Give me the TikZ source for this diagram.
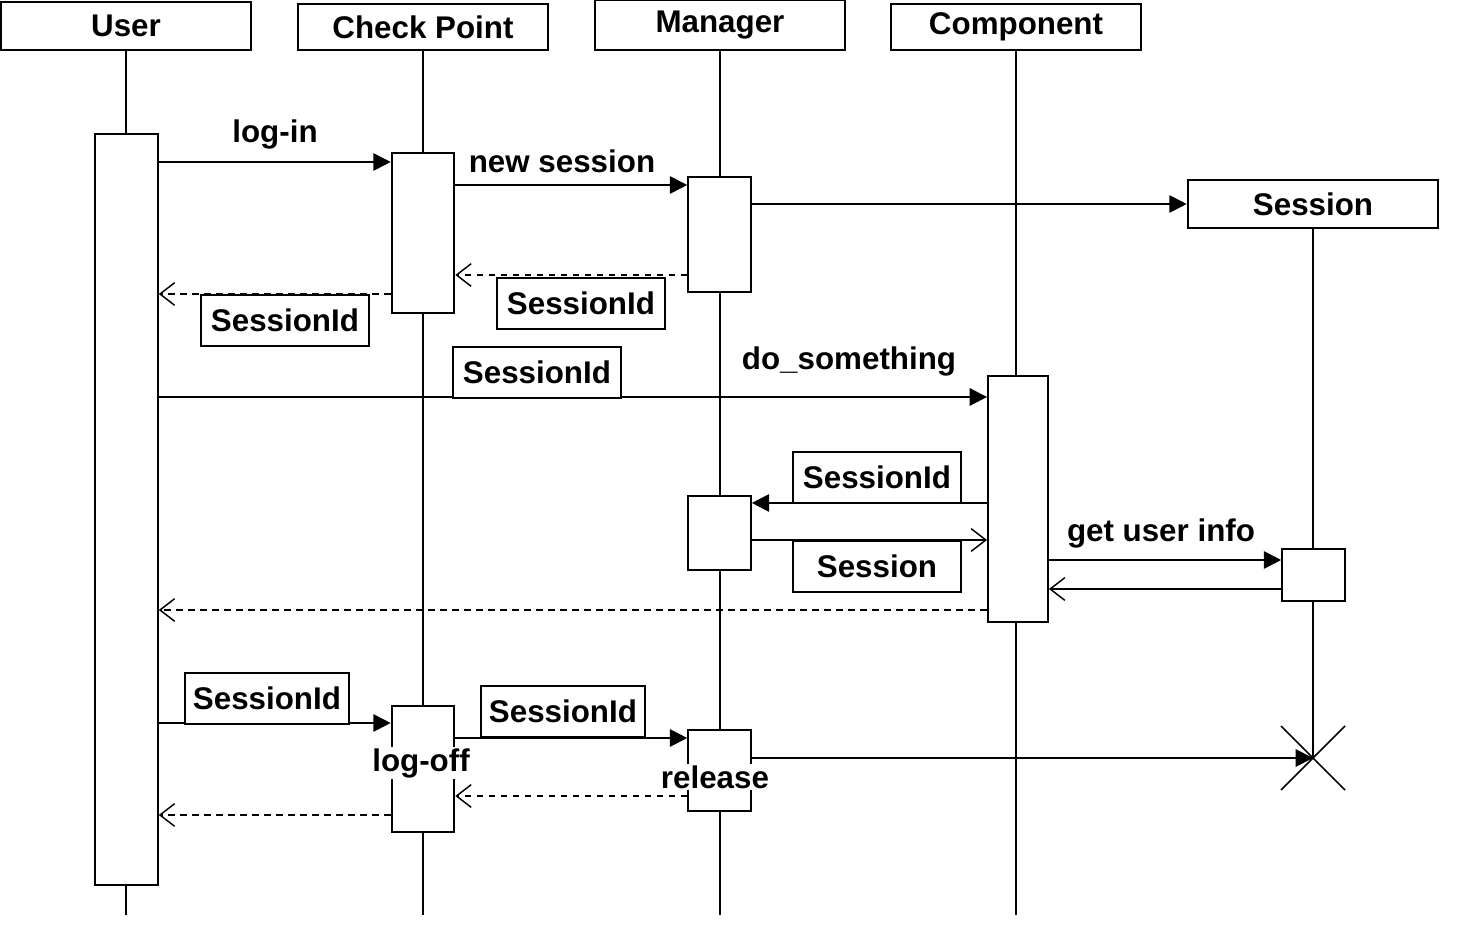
\documentclass[tikz,border=0pt]{standalone}
\usepackage{fontspec}
\setmainfont{Liberation Sans}
\usepackage{tikz}
\usetikzlibrary{arrows.meta}

\begin{document}
\begin{tikzpicture}[x=0.75pt,y=0.75pt,yscale=-1,xscale=1,
    line width=1.45pt,
    lbl/.style={font=\fontsize{23.5}{28}\selectfont\bfseries, inner sep=0.75pt},
    head/.style={lbl, draw, fill=white, minimum width=188pt, minimum height=34.5pt, anchor=south},
    act/.style={draw, fill=white, minimum width=47pt, anchor=north, inner sep=0pt},
    tag/.style={lbl, draw, fill=white, minimum width=126pt, minimum height=38pt, anchor=north west, inner sep=0pt},
    call/.style={-{Triangle[length=13pt,width=13pt]}},
    ret/.style={-{Straight Barb[length=11pt,width=17pt,line width=1.1pt]}},
    back/.style={ret, dash pattern=on 5pt off 4pt}]
            \useasboundingbox (0,0) rectangle (1461,930);

            % heads
            \node[head, minimum height=36pt] (user) at (126,51) {User};
            \node[head] (check) at (423,51) {Check Point};
            \node[head, minimum height=37.5pt] (mgr) at (720,51) {Manager};
            \node[head] (comp) at (1016,51) {Component};
            \node[head, minimum height=36pt] (sess) at (1313,229) {Session};

            % lifelines
            \coordinate (userend) at (126,915);
            \coordinate (checkend) at (423,915);
            \coordinate (mgrend) at (720,915);
            \coordinate (compend) at (1016,915);
            \coordinate (kill) at (1313,758);
            \draw (user) -- (userend);
            \draw (check) -- (checkend);
            \draw (mgr) -- (mgrend);
            \draw (comp) -- (compend);
            \draw (sess) -- (kill);
            \draw [line width=1.1pt] (kill) ++(-32,-32) -- ++(64,64);
            \draw [line width=1.1pt] (kill) ++(-32,32) -- ++(64,-64);

            % activations
            \node[act, minimum height=563.25pt] (ua) at (126.5,133) {};
            \node[act, minimum height=120pt] (ca1) at (423,152) {};
            \node[act, minimum height=86.25pt] (ma1) at (719.5,176) {};
            \node[act, minimum height=184.5pt, minimum width=45pt] (pa) at (1018,375) {};
            \node[act, minimum height=55.5pt] (ma2) at (719.5,495) {};
            \node[act, minimum height=39pt] (sa) at (1313.5,548) {};
            \node[act, minimum height=94.5pt] (ca2) at (423,705) {};
            \node[act, minimum height=60.75pt] (ma3) at (719.5,729) {};

            % messages
            \draw[call] (ua.east |- 0,162) -- (ca1.west |- 0,162);
            \draw[call] (ca1.east |- 0,185) -- (ma1.west |- 0,185);
            \draw[call] (ma1.east |- 0,204) -- (sess.west |- 0,204);
            \draw[back] (ma1.west |- 0,275) -- (ca1.east |- 0,275);
            \draw[back] (ca1.west |- 0,294) -- (ua.east |- 0,294);
            \draw[call] (ua.east |- 0,397) -- (pa.west |- 0,397);
            \draw[call] (pa.west |- 0,503) -- (ma2.east |- 0,503);
            \draw[ret] (ma2.east |- 0,540) -- (pa.west |- 0,540);
            \draw[call] (pa.east |- 0,560) -- (sa.west |- 0,560);
            \draw[ret] (sa.west |- 0,589) -- (pa.east |- 0,589);
            \draw[back] (pa.west |- 0,610) -- (ua.east |- 0,610);
            \draw[call] (ua.east |- 0,723) -- (ca2.west |- 0,723);
            \draw[call] (ca2.east |- 0,738) -- (ma3.west |- 0,738);
            \draw[call] (ma3.east |- kill) -- (kill);
            \draw[back] (ma3.west |- 0,796) -- (ca2.east |- 0,796);
            \draw[back] (ca2.west |- 0,815) -- (ua.east |- 0,815);

            % labels
            \node[lbl] (login) at (275,134) {log-in};
            \node[lbl] (newses) at (562,161) {new session};
            \node[lbl] (dosth) at (849,361) {do\_something};
            \node[lbl] (getinfo) at (1161,533) {get user info};
            \node[lbl, fill=white] (logoff) at (421,763) {log-off};
            \node[lbl, fill=white] (release) at (715,777) {release};
            \node[tag] (sid1) at (200,294) {SessionId};
            \node[tag] (sid2) at (496,277) {SessionId};
            \node[tag] (sid3) at (452,346) {SessionId};
            \node[tag] (sid4) at (792,451) {SessionId};
            \node[tag] (ses) at (792,540) {Session};
            \node[tag, minimum width=123pt] (sid5) at (184,672) {SessionId};
            \node[tag, minimum width=123pt] (sid6) at (480,685) {SessionId};
        \end{tikzpicture}
\end{document}
